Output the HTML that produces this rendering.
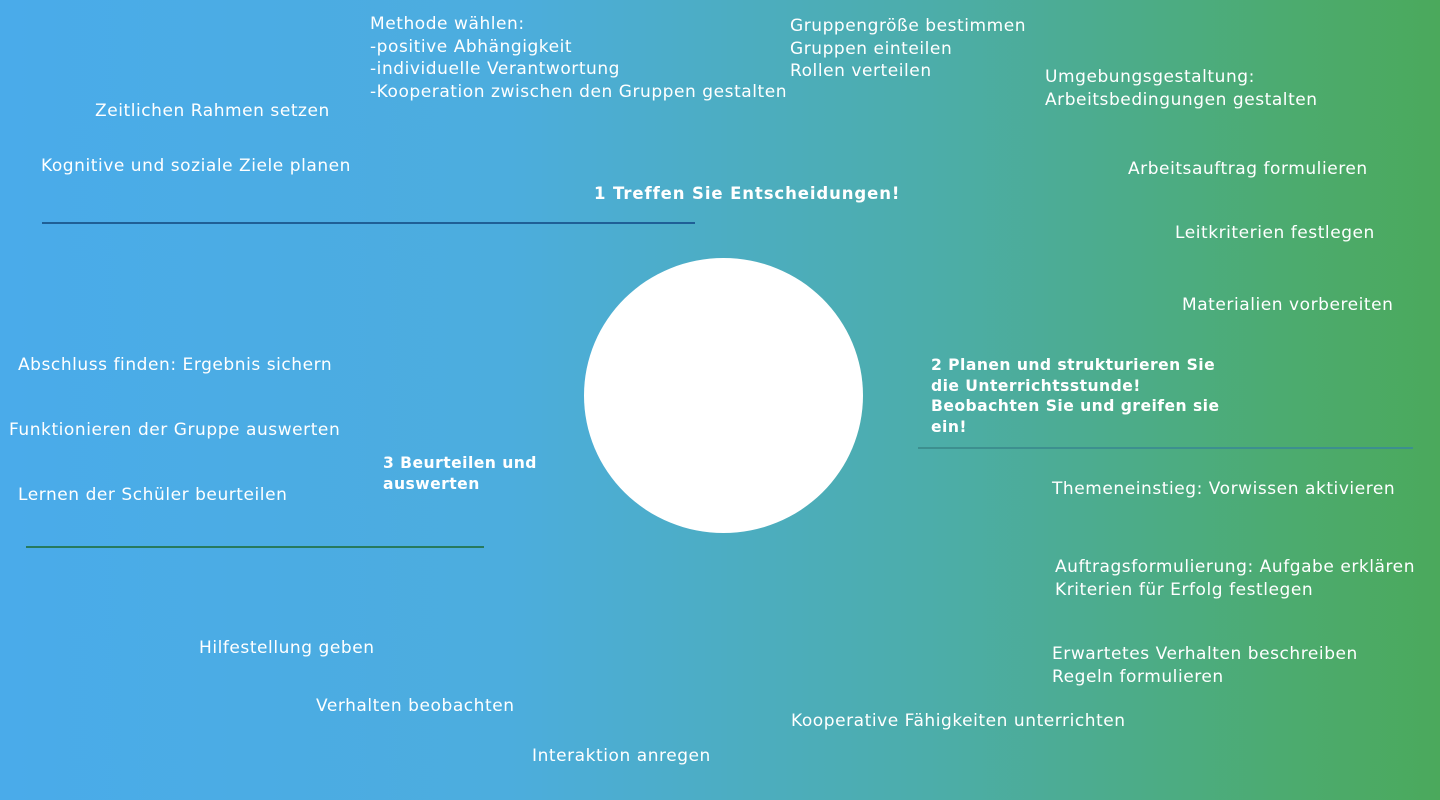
<!DOCTYPE html>
<html><head><meta charset="utf-8"><style>
html,body{margin:0;padding:0}
body{width:1440px;height:800px;position:relative;overflow:hidden;
background:linear-gradient(90deg,#4aabea 0%,#4cadde 35%,#4cada9 65%,#4cab6e 90%,#4ba95c 100%);
font-family:"DejaVu Sans","Liberation Sans",sans-serif;color:#fff;font-size:17px;letter-spacing:0.55px;line-height:22.5px}
.t{position:absolute;white-space:nowrap}
.b{font-weight:bold;font-size:15.6px;letter-spacing:0.45px;line-height:20.5px}
.l{position:absolute;height:2px}
</style></head><body>
<div class="t" style="left:370px;top:13px">Methode wählen:<br>-positive Abhängigkeit<br>-individuelle Verantwortung<br>-Kooperation zwischen den Gruppen gestalten</div>
<div class="t" style="left:790px;top:15px">Gruppengröße bestimmen<br>Gruppen einteilen<br>Rollen verteilen</div>
<div class="t" style="left:1045px;top:66px">Umgebungsgestaltung:<br>Arbeitsbedingungen gestalten</div>
<div class="t" style="left:95px;top:100px">Zeitlichen Rahmen setzen</div>
<div class="t" style="left:41px;top:155px">Kognitive und soziale Ziele planen</div>
<div class="t" style="left:1128px;top:158px">Arbeitsauftrag formulieren</div>
<div class="t b" style="left:594px;top:184px;font-size:16.5px;letter-spacing:0.9px">1 Treffen Sie Entscheidungen!</div>
<div class="l" style="left:42px;top:222px;width:653px;background:#1f5f96"></div>
<div class="t" style="left:1175px;top:222px">Leitkriterien festlegen</div>
<div class="t" style="left:1182px;top:294px">Materialien vorbereiten</div>
<div style="position:absolute;left:584px;top:258px;width:279px;height:275px;border-radius:50%;background:#fff"></div>
<div class="t" style="left:18px;top:354px">Abschluss finden: Ergebnis sichern</div>
<div class="t b" style="left:931px;top:355px">2 Planen und strukturieren Sie<br>die Unterrichtsstunde!<br>Beobachten Sie und greifen sie<br>ein!</div>
<div class="t" style="left:9px;top:419px">Funktionieren der Gruppe auswerten</div>
<div class="l" style="left:918px;top:447px;width:495px;height:1.5px;background:#3d8f8f"></div>
<div class="t b" style="left:383px;top:453px">3 Beurteilen und<br>auswerten</div>
<div class="t" style="left:1052px;top:478px">Themeneinstieg: Vorwissen aktivieren</div>
<div class="t" style="left:18px;top:484px">Lernen der Schüler beurteilen</div>
<div class="l" style="left:26px;top:546px;width:458px;background:#277a5e"></div>
<div class="t" style="left:1055px;top:556px">Auftragsformulierung: Aufgabe erklären<br>Kriterien für Erfolg festlegen</div>
<div class="t" style="left:199px;top:637px">Hilfestellung geben</div>
<div class="t" style="left:1052px;top:643px">Erwartetes Verhalten beschreiben<br>Regeln formulieren</div>
<div class="t" style="left:316px;top:695px">Verhalten beobachten</div>
<div class="t" style="left:791px;top:710px">Kooperative Fähigkeiten unterrichten</div>
<div class="t" style="left:532px;top:745px">Interaktion anregen</div>
</body></html>
